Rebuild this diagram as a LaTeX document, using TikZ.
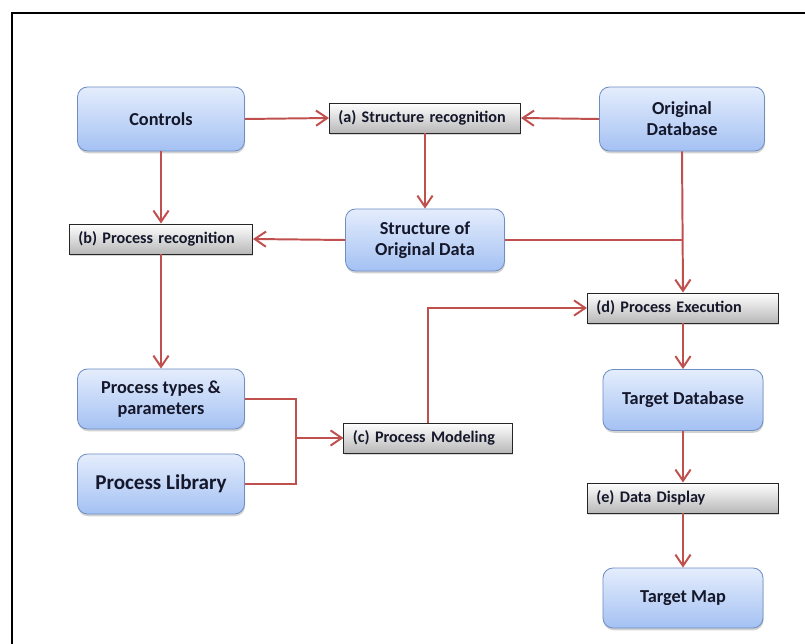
\documentclass[tikz,border=0pt]{standalone}
\usepackage{fontspec}
\setmainfont{Carlito}
\newfontfamily\stepfam[WordSpace=0.7]{Carlito}
\usetikzlibrary{arrows.meta,shadows}

\definecolor{linkred}{HTML}{C0504D}
\definecolor{boxtop}{HTML}{E4EDFC}
\definecolor{boxbot}{HTML}{A4C1F3}
\definecolor{boxedge}{HTML}{6F8FC4}
\definecolor{inktext}{HTML}{15172B}

\tikzset{
  datanode/.style={
    rounded corners=0.25cm, draw=boxedge, line width=0.6pt,
    top color=boxtop, bottom color=boxbot,
    drop shadow={shadow xshift=0.4pt, shadow yshift=-1.6pt, opacity=0.35},
    font=\bfseries\fontsize{13}{15}\selectfont, text=inktext,
    align=center, inner sep=0pt},
  stepnode/.style={
    draw=black!85, line width=0.7pt,
    top color=white, bottom color=black!28,
    drop shadow={shadow xshift=0.6pt, shadow yshift=-1.4pt, opacity=0.3},
    font=\stepfam\bfseries\fontsize{11.5}{13}\selectfont, text=inktext,
    minimum height=0.75cm, inner xsep=0.22cm, inner ysep=0pt,
    align=left},
  link/.style={draw=linkred, line width=1.4pt},
  arrowlink/.style={link, -{Straight Barb[length=2.8mm,width=3.8mm,line width=1.4pt]}}
}

\begin{document}
\begin{tikzpicture}[x=0.025cm, y=-0.025cm]
  \useasboundingbox (0,0) rectangle (805,644);
  \fill[white] (0,0) rectangle (805,644);

  % outer frame (open on the right and bottom)
  \draw[line width=1.6pt, line cap=rect] (12,644) -- (12,13) -- (805,13);

  % data boxes
  \node[datanode, minimum width=4.175cm, minimum height=1.6cm] (controls) at (161,119) {Controls};
  \node[datanode, minimum width=4.125cm, minimum height=1.6cm] (origdb) at (682,119) {Original\\Database};
  \node[datanode, minimum width=3.975cm, minimum height=1.55cm] (struct) at (425,240) {Structure of\\Original Data};
  \node[datanode, minimum width=4.175cm, minimum height=1.5cm] (ptypes) at (161,399) {Process types \&\\parameters};
  \node[datanode, minimum width=4.175cm, minimum height=1.5cm, font=\bfseries\fontsize{15}{17}\selectfont] (plib) at (161,484) {Process Library};
  \node[datanode, minimum width=4.0cm, minimum height=1.525cm] (targetdb) at (683,400) {Target Database};
  \node[datanode, minimum width=4.0cm, minimum height=1.5cm] (targetmap) at (683,598) {Target Map};

  % processing steps
  \node[stepnode, text width=4.335cm] (stepa) at (425,118) {(a) Structure recognition};
  \node[stepnode, text width=4.135cm] (stepb) at (161,239) {(b) Process recognition};
  \node[stepnode, text width=3.76cm] (stepc) at (428,438) {(c) Process Modeling};
  \node[stepnode, text width=4.335cm] (stepd) at (683,308) {(d) Process Execution};
  \node[stepnode, text width=4.335cm] (stepe) at (683,498) {(e) Data Display};

  % junction points
  \coordinate (joinr) at (origdb.south |- struct.east);
  \coordinate (mergetop) at (296,399);
  \coordinate (mergebot) at (296,484);
  \coordinate (mergemid) at (296,438);

  % connectors
  \draw[arrowlink] (controls.east) -- (stepa.west);
  \draw[arrowlink] (origdb.west) -- (stepa.east);
  \draw[arrowlink] (stepa.south) -- (struct.north);
  \draw[arrowlink] (controls.south) -- (stepb.north);
  \draw[arrowlink] (struct.west) -- (stepb.east);
  \draw[link] (struct.east) -- (joinr);
  \draw[arrowlink] (origdb.south) -- (stepd.north);
  \draw[arrowlink] (stepb.south) -- (ptypes.north);
  \draw[link] (ptypes.east) -- (mergetop) -- (mergebot) -- (plib.east);
  \draw[arrowlink] (mergemid) -- (stepc.west);
  \draw[arrowlink] (stepc.north) |- (stepd.west);
  \draw[arrowlink] (stepd.south) -- (targetdb.north);
  \draw[arrowlink] (targetdb.south) -- (stepe.north);
  \draw[arrowlink] (stepe.south) -- (targetmap.north);
\end{tikzpicture}
\end{document}
